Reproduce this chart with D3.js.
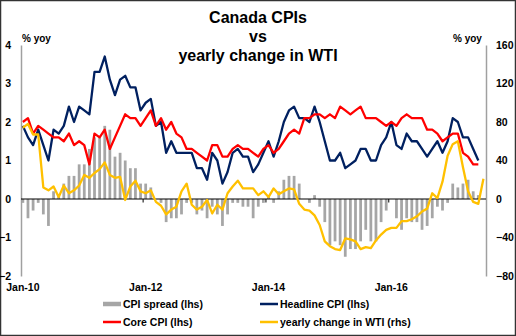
<!DOCTYPE html>
<html lang="en">
  <head>
    <meta charset="utf-8">
    <script src="https://cdnjs.cloudflare.com/ajax/libs/d3/7.8.5/d3.min.js"></script>
    <style>
      body { margin: 0; background: #fff; }
      text { font-family: "Liberation Sans", Arial, sans-serif; font-weight: bold; fill: #000; }
    </style>
  </head>
  <body>
    <script type="text/javascript">

      // months Jan-10 .. Jul-17 (category axis)
      var months = d3.timeMonth.range(new Date(2010, 0, 1), new Date(2017, 7, 1))
        .map(d3.timeFormat("%b-%y"));
      var xLabels = ["Jan-10", "Jan-12", "Jan-14", "Jan-16"];
      var leftTicks = [-2, -1, 0, 1, 2, 3, 4];
      var rightTicks = [-80, -40, 0, 40, 80, 120, 160];

      // % yoy, Jan-10 .. Jun-17
      var headline = [1.9, 1.6, 1.4, 1.8, 1.4, 1.0, 1.8, 1.7, 1.9, 2.4, 2.0, 2.4,
                      2.3, 2.2, 3.3, 3.3, 3.7, 3.1, 2.7, 3.1, 3.2, 2.9, 2.9, 2.3,
                      2.5, 2.6, 1.9, 2.0, 1.2, 1.5, 1.2, 1.2, 1.2, 1.2, 0.8, 0.8,
                      0.5, 1.2, 1.0, 0.4, 0.7, 1.2, 1.3, 1.1, 1.1, 0.7, 0.9, 1.2,
                      1.5, 1.1, 1.5, 2.0, 2.3, 2.4, 2.1, 2.1, 2.0, 2.4, 2.0, 1.5,
                      1.0, 1.0, 1.2, 0.8, 0.9, 1.0, 1.3, 1.3, 1.0, 1.0, 1.4, 1.6,
                      2.0, 1.4, 1.3, 1.7, 1.5, 1.5, 1.3, 1.1, 1.3, 1.5, 1.2, 1.5,
                      2.1, 2.0, 1.6, 1.6, 1.3, 1.0];
      var core = [2.0, 2.1, 1.7, 1.9, 1.8, 1.7, 1.6, 1.6, 1.5, 1.7, 1.4, 1.5,
                  1.4, 0.9, 1.7, 1.6, 1.8, 1.3, 1.6, 1.9, 2.2, 2.1, 2.1, 1.9,
                  2.1, 2.3, 1.9, 2.1, 1.8, 2.0, 1.7, 1.6, 1.3, 1.3, 1.2, 1.1,
                  1.0, 1.4, 1.4, 1.1, 1.1, 1.3, 1.4, 1.3, 1.3, 1.2, 1.1, 1.3,
                  1.4, 1.2, 1.3, 1.5, 1.7, 1.8, 1.7, 2.1, 2.1, 2.2, 2.2, 2.1,
                  2.2, 2.1, 2.4, 2.3, 2.2, 2.3, 2.4, 2.1, 2.1, 2.1, 2.0, 1.9,
                  2.0, 1.9, 2.1, 2.2, 2.1, 2.1, 2.1, 1.8, 1.8, 1.7, 1.5, 1.6,
                  1.7, 1.7, 1.2, 1.1, 0.9, 0.9];
      var spread = [-0.1, -0.5, -0.3, -0.1, -0.4, -0.7, 0.2, 0.1, 0.4, 0.6, 0.6, 0.9,
                    0.9, 1.3, 1.6, 1.6, 1.9, 1.8, 1.1, 1.2, 1.0, 0.8, 0.8, 0.4,
                    0.4, 0.3, 0.0, -0.1, -0.6, -0.5, -0.5, -0.4, -0.1, -0.1, -0.4, -0.3,
                    -0.5, -0.2, -0.4, -0.7, -0.4, -0.1, -0.1, -0.2, -0.2, -0.5, -0.2, -0.1,
                    0.1, -0.1, 0.2, 0.5, 0.6, 0.6, 0.4, 0.0, -0.1, 0.1, -0.2, -0.6,
                    -1.2, -1.1, -1.2, -1.5, -1.3, -1.3, -1.1, -0.8, -1.1, -1.1, -0.6, -0.3,
                    0.0, -0.5, -0.8, -0.5, -0.6, -0.6, -0.8, -0.7, -0.5, -0.2, -0.3, -0.1,
                    0.4, 0.3, 0.4, 0.5, 0.2, 0.1];
      // yearly change in WTI, %, Jan-10 .. Jul-17
      var wti = [74, 78, 67, 67, 12, 9, 13, 2, 14, 6, 9, 14,
                 25, 22, 27, 31, 38, 25, 22, 23, -1, 13, 19, 8,
                 6, 9, -3, -7, -16, -11, -8, 8, 16, -6, -11, -8,
                 -1, -15, -6, -11, 6, 13, 19, 11, 11, 11, 4, 8,
                 2, 11, 5, 8, 11, 10, -5, -11, -12, -17, -27, -44,
                 -49, -52, -53, -41, -42, -44, -52, -50, -51, -43, -37, -32,
                 -30, -30, -23, -23, -21, -18, -13, -10, 6, 1, 18, 45,
                 57, 60, 33, 8, -3, -5, 21];

      var width = 516, height = 336;
      var svg = d3.select("body").append("svg")
        .attr("width", width)
        .attr("height", height);

      svg.append("rect")
        .attr("x", 0.5).attr("y", 0.5)
        .attr("width", width - 1).attr("height", height - 1)
        .attr("fill", "#fff")
        .attr("stroke", "#333")
        .attr("stroke-width", 1.5);

      var x = d3.scaleBand().domain(months).range([20.3, 486]);
      var yL = d3.scaleLinear().domain([-2, 4]).range([276, 45]);
      var yR = d3.scaleLinear().domain([-80, 160]).range([276, 45]);
      var cx = function(i) { return x(months[i]) + x.bandwidth() / 2; };

      // bars
      svg.selectAll("rect.spread")
        .data(spread)
        .enter().append("rect")
        .attr("class", "spread")
        .attr("x", function(d, i) { return cx(i) - x.bandwidth() * 0.27; })
        .attr("width", x.bandwidth() * 0.54)
        .attr("y", function(d) { return yL(Math.max(0, d)); })
        .attr("height", function(d) { return Math.abs(yL(d) - yL(0)); })
        .attr("fill", "#a6a6a6");

      // y axes
      var left = svg.append("g")
        .attr("transform", "translate(21,0)")
        .call(d3.axisLeft(yL).tickValues(leftTicks).tickFormat(d3.format("d"))
          .tickSize(0).tickPadding(10).tickSizeOuter(0));
      var right = svg.append("g")
        .attr("transform", "translate(486,0)")
        .call(d3.axisRight(yR).tickValues(rightTicks).tickFormat(d3.format("d"))
          .tickSize(0).tickPadding(10).tickSizeOuter(0));
      [left, right].forEach(function(g) {
        g.select(".domain").attr("stroke", "#a0a0a0").attr("stroke-width", 1.5);
        g.selectAll("text").attr("font-size", 10.5).attr("font-family", null);
      });

      // zero line and ticks
      svg.append("line")
        .attr("x1", 21).attr("x2", 486)
        .attr("y1", yL(0)).attr("y2", yL(0))
        .attr("stroke", "#000").attr("stroke-width", 1);
      svg.selectAll("line.xtick")
        .data(xLabels.slice(1))
        .enter().append("line")
        .attr("x1", function(d) { return x(d); })
        .attr("x2", function(d) { return x(d); })
        .attr("y1", yL(0)).attr("y2", yL(0) + 3.5)
        .attr("stroke", "#000");

      // x labels
      var bottom = svg.append("g")
        .attr("transform", "translate(0,276)")
        .call(d3.axisBottom(x).tickValues(xLabels).tickSize(0).tickPadding(8));
      bottom.select(".domain").remove();
      bottom.selectAll("text").attr("font-size", 10.5).attr("font-family", null);

      // lines
      var lineL = d3.line().x(function(d, i) { return cx(i); }).y(function(d) { return yL(d); });
      var lineR = d3.line().x(function(d, i) { return cx(i); }).y(function(d) { return yR(d); });

      svg.append("path").datum(headline)
        .attr("d", lineL).attr("fill", "none")
        .attr("stroke", "#002060").attr("stroke-width", 2.3).attr("stroke-linejoin", "round");
      svg.append("path").datum(core)
        .attr("d", lineL).attr("fill", "none")
        .attr("stroke", "#ff0000").attr("stroke-width", 2.3).attr("stroke-linejoin", "round");
      svg.append("path").datum(wti)
        .attr("d", lineR).attr("fill", "none")
        .attr("stroke", "#ffc000").attr("stroke-width", 2.3).attr("stroke-linejoin", "round");

      // titles
      var title = ["Canada CPIs", "vs", "yearly change in WTI"];
      svg.selectAll("text.title")
        .data(title)
        .enter().append("text")
        .attr("class", "title")
        .attr("x", 258)
        .attr("y", function(d, i) { return 22.5 + i * 19; })
        .attr("text-anchor", "middle")
        .attr("font-size", 16)
        .text(function(d) { return d; });

      svg.append("text").attr("x", 22).attr("y", 41.5).attr("font-size", 10).text("% yoy");
      svg.append("text").attr("x", 453).attr("y", 41.5).attr("font-size", 10).text("% yoy");

      // legend
      var legend = [
        {name: "CPI spread (lhs)", color: "#a6a6a6", w: 4.5, x: 103, y: 304},
        {name: "Headline CPI (lhs)", color: "#002060", w: 2.5, x: 260, y: 304},
        {name: "Core CPI (lhs)", color: "#ff0000", w: 2.5, x: 103, y: 322},
        {name: "yearly change in WTI (rhs)", color: "#ffc000", w: 2.5, x: 260, y: 322}
      ];
      var lg = svg.selectAll("g.legend").data(legend).enter().append("g")
        .attr("class", "legend")
        .attr("transform", function(d) { return "translate(" + d.x + "," + d.y + ")"; });
      lg.append("line")
        .attr("x1", 0).attr("x2", 18)
        .attr("stroke", function(d) { return d.color; })
        .attr("stroke-width", function(d) { return d.w; });
      lg.append("text")
        .attr("x", 20).attr("y", 3.8)
        .attr("font-size", 10.5)
        .text(function(d) { return d.name; });
    </script>
  </body>
</html>
